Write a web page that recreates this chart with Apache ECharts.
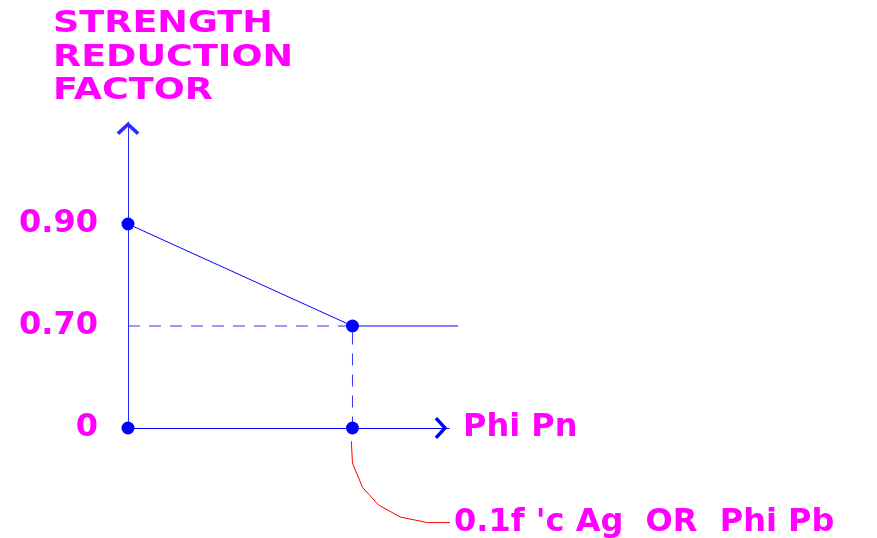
<!DOCTYPE html>
<html>
<head>
<meta charset="utf-8">
<script src="https://cdn.jsdelivr.net/npm/echarts@6/dist/echarts.min.js"></script>
<style>html,body{margin:0;padding:0;background:#fff;}#c{width:877px;height:538px;}</style>
</head>
<body>
<div id="c"></div>
<script>
// ---- data ----
const titleLines = ['STRENGTH', 'REDUCTION', 'FACTOR'];
const yCategories = ['0', '0.70', '0.90', ''];
const xAxisName = 'Phi Pn';
const xMax = 1.43;
const factorX = [0, 1, 1.47];
const factorY = ['0.90', '0.70', '0.70'];
const guideX = [0, 1, 1];
const guideY = ['0.70', '0.70', '0'];
const dotX = [0, 1, 0, 1];
const dotY = ['0.90', '0.70', '0', '0'];
const leaderX = [0.995, 1.0, 1.045, 1.116, 1.214, 1.335, 1.46];
const leaderY = [-0.12, -0.32, -0.54, -0.70, -0.81, -0.86, -0.86];
const leaderText = "0.1f 'c Ag  OR  Phi Pb";

const MAG = '#ff00ff';
const BLUE = '#0000ff';
const FONT = 'DejaVu Sans';
const chevron = 'path://M0 11 L12 0 L24 11 L21.5 13.8 L12 5 L2.5 13.8 Z';

const zip = (a, b) => a.map((v, i) => [v, b[i]]);

const chart = echarts.init(document.getElementById('c'), null, {renderer: 'canvas'});
chart.setOption({
  animation: false,
  backgroundColor: '#ffffff',
  grid: [
    {left: 128, right: 428, top: 122, bottom: 110},
    {left: 128, right: 428, top: 428, bottom: 0}
  ],
  xAxis: [
    {
      type: 'value', gridIndex: 0, min: 0, max: xMax,
      name: xAxisName, nameLocation: 'end', nameGap: 14,
      nameTextStyle: {color: MAG, fontFamily: FONT, fontWeight: 'bold', fontSize: 32, verticalAlign: 'middle'},
      axisLine: {show: true, onZero: false, symbol: ['none', chevron], symbolSize: [22, 16], symbolOffset: [0, -8],
        lineStyle: {color: BLUE, width: 1}},
      axisTick: {show: false}, axisLabel: {show: false}, splitLine: {show: false}
    },
    {
      type: 'value', gridIndex: 1, min: 0, max: xMax, show: false
    }
  ],
  yAxis: [
    {
      type: 'category', gridIndex: 0, data: yCategories, boundaryGap: false,
      axisLine: {show: true, symbol: ['none', chevron], symbolSize: [24, 13], symbolOffset: [0, -6.5],
        lineStyle: {color: '#2a2aff', width: 1}},
      axisTick: {show: false}, splitLine: {show: false},
      axisLabel: {interval: 0, margin: 30, color: MAG, fontFamily: FONT, fontWeight: 'bold', fontSize: 32}
    },
    {
      type: 'value', gridIndex: 1, min: -1, max: 0, show: false
    }
  ],
  graphic: [{
    type: 'text', x: 53, y: 8, scaleX: 1.26, scaleY: 1.04,
    style: {
      text: titleLines.join('\n'), fill: MAG, font: 'bold 29px "DejaVu Sans"',
      lineHeight: 32, verticalAlign: 'top', align: 'left'
    }
  }],
  series: [
    {
      type: 'line', xAxisIndex: 0, yAxisIndex: 0, data: zip(factorX, factorY),
      showSymbol: false, clip: false, silent: true,
      lineStyle: {color: BLUE, width: 1}
    },
    {
      type: 'line', xAxisIndex: 0, yAxisIndex: 0, data: zip(guideX, guideY),
      showSymbol: false, clip: false, silent: true,
      lineStyle: {color: '#3030ff', width: 1, type: [12, 9]}
    },
    {
      type: 'scatter', xAxisIndex: 0, yAxisIndex: 0, data: zip(dotX, dotY),
      symbol: 'circle', symbolSize: 13, clip: false, silent: true,
      itemStyle: {color: BLUE, opacity: 1}, z: 5
    },
    {
      type: 'line', xAxisIndex: 1, yAxisIndex: 1, data: zip(leaderX, leaderY),
      showSymbol: false, clip: false, silent: true,
      lineStyle: {color: '#ff0000', width: 1},
      endLabel: {show: true, formatter: leaderText, distance: 4, color: MAG,
        fontFamily: FONT, fontWeight: 'bold', fontSize: 32}
    }
  ]
});
</script>
</body>
</html>
